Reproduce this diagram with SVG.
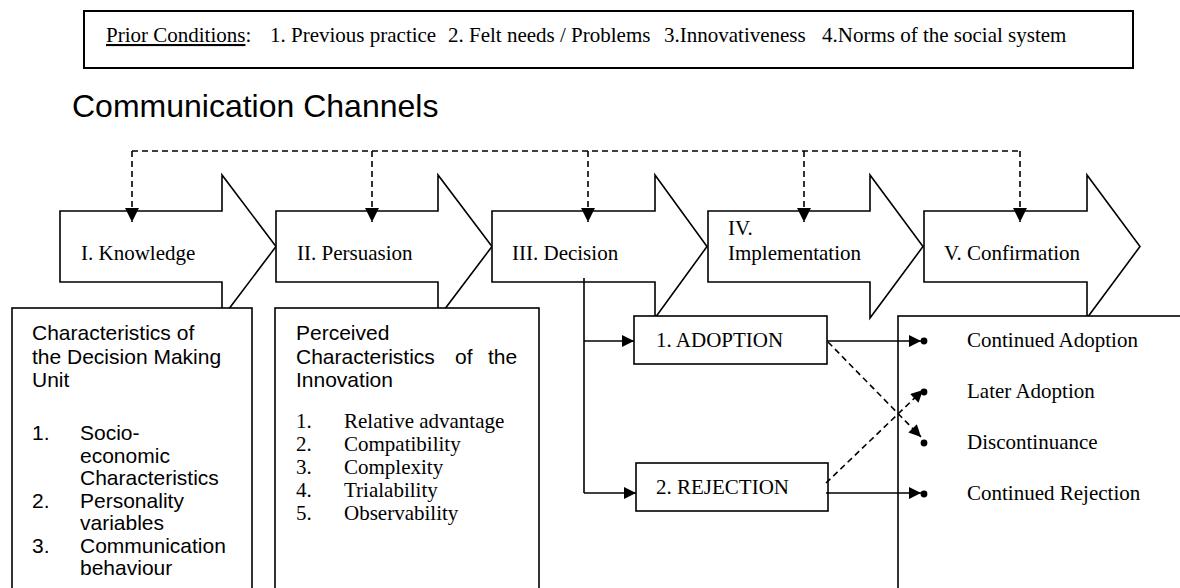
<svg xmlns="http://www.w3.org/2000/svg" width="1180" height="588" viewBox="0 0 1180 588">
<style>
.serif{font-family:"Liberation Serif","Times New Roman",serif;font-size:21px;fill:#000}
.sans{font-family:"Liberation Sans",Arial,sans-serif;font-size:21px;fill:#000}
.stage{fill:#fff;stroke:#000;stroke-width:1.6}
.box{fill:#fff;stroke:#000;stroke-width:1.6}
.ln{fill:none;stroke:#000;stroke-width:1.6}
.dash{fill:none;stroke:#000;stroke-width:1.6;stroke-dasharray:6 4}
</style>
<defs>
<marker id="ah" viewBox="0 0 10 10" refX="10" refY="5" markerWidth="15" markerHeight="12" markerUnits="userSpaceOnUse" orient="auto">
<path d="M0,0 L10,5 L0,10 z" fill="#000"/>
</marker>
<marker id="ahd" viewBox="0 0 10 10" refX="10" refY="5" markerWidth="15" markerHeight="14" markerUnits="userSpaceOnUse" orient="auto">
<path d="M0,0 L10,5 L0,10 z" fill="#000"/>
</marker>
</defs>

<g id="prior-conditions">
<rect x="84" y="11" width="1049" height="57" fill="#fff" stroke="#000" stroke-width="2"/>
<text class="serif" x="106" y="42"><tspan text-decoration="underline">Prior Conditions</tspan>:</text>
<text class="serif" x="270" y="42">1. Previous practice</text>
<text class="serif" x="448" y="42">2. Felt needs / Problems</text>
<text class="serif" x="664" y="42">3.Innovativeness</text>
<text class="serif" x="822" y="42">4.Norms of the social system</text>
</g>

<g id="communication-channels">
<text class="sans" x="72" y="117" style="font-size:32px">Communication Channels</text>
</g>

<g id="stage-knowledge">
<polygon class="stage" points="60,211 222,211 222,175 276,246.5 222,318 222,282 60,282"/>
<text class="serif" x="81" y="260">I. Knowledge</text>
</g>
<g id="stage-persuasion">
<polygon class="stage" points="276,211 438,211 438,175 492,246.5 438,318 438,282 276,282"/>
<text class="serif" x="297" y="260">II. Persuasion</text>
</g>
<g id="stage-decision">
<polygon class="stage" points="492,211 655,211 655,175 707,246.5 655,318 655,282 492,282"/>
<text class="serif" x="512" y="260">III. Decision</text>
</g>
<g id="stage-implementation">
<polygon class="stage" points="708,211 870,211 870,175 923,246.5 870,318 870,282 708,282"/>
<text class="serif" x="728" y="235">IV.</text>
<text class="serif" x="728" y="260">Implementation</text>
</g>
<g id="stage-confirmation">
<polygon class="stage" points="924,211 1087,211 1087,175 1140,246.5 1087,318 1087,282 924,282"/>
<text class="serif" x="944" y="260">V. Confirmation</text>
</g>

<g id="connectors">
<line class="dash" x1="132" y1="151" x2="1020" y2="151"/>
<line class="dash" x1="132" y1="151" x2="132" y2="222" marker-end="url(#ahd)"/>
<line class="dash" x1="372" y1="151" x2="372" y2="222" marker-end="url(#ahd)"/>
<line class="dash" x1="588" y1="151" x2="588" y2="222" marker-end="url(#ahd)"/>
<line class="dash" x1="804" y1="151" x2="804" y2="222" marker-end="url(#ahd)"/>
<line class="dash" x1="1020" y1="151" x2="1020" y2="222" marker-end="url(#ahd)"/>
<line class="ln" x1="584" y1="278" x2="584" y2="493"/>
<line class="ln" x1="584" y1="341" x2="634" y2="341" marker-end="url(#ah)"/>
<line class="ln" x1="584" y1="493" x2="636" y2="493" marker-end="url(#ah)"/>
</g>

<g id="dmu-characteristics">
<rect class="box" x="12" y="308" width="240" height="300"/>
<text class="sans" x="32" y="340">Characteristics of</text>
<text class="sans" x="32" y="363.5">the Decision Making</text>
<text class="sans" x="32" y="387">Unit</text>
<text class="sans" x="32" y="440">1.</text>
<text class="sans" x="80" y="440">Socio-</text>
<text class="sans" x="80" y="462.5">economic</text>
<text class="sans" x="80" y="485">Characteristics</text>
<text class="sans" x="32" y="507.5">2.</text>
<text class="sans" x="80" y="507.5">Personality</text>
<text class="sans" x="80" y="530">variables</text>
<text class="sans" x="32" y="552.5">3.</text>
<text class="sans" x="80" y="552.5">Communication</text>
<text class="sans" x="80" y="575">behaviour</text>
</g>

<g id="innovation-characteristics">
<rect class="box" x="275" y="308" width="264" height="300"/>
<text class="sans" x="296" y="340">Perceived</text>
<text class="sans" x="296" y="363.5">Characteristics</text>
<text class="sans" x="455" y="363.5">of</text>
<text class="sans" x="488" y="363.5">the</text>
<text class="sans" x="296" y="387">Innovation</text>
<text class="serif" x="296" y="428">1.</text><text class="serif" x="344" y="428">Relative advantage</text>
<text class="serif" x="296" y="451">2.</text><text class="serif" x="344" y="451">Compatibility</text>
<text class="serif" x="296" y="474">3.</text><text class="serif" x="344" y="474">Complexity</text>
<text class="serif" x="296" y="497">4.</text><text class="serif" x="344" y="497">Trialability</text>
<text class="serif" x="296" y="520">5.</text><text class="serif" x="344" y="520">Observability</text>
</g>

<g id="adoption">
<rect class="box" x="634" y="316" width="193" height="48"/>
<text class="serif" x="656" y="347">1. ADOPTION</text>
</g>

<g id="rejection">
<rect class="box" x="636" y="463" width="192" height="48"/>
<text class="serif" x="656" y="494">2. REJECTION</text>
</g>

<g id="confirmation-outcomes">
<rect class="box" x="898" y="316" width="300" height="300"/>
<circle cx="924" cy="341" r="3.4"/>
<circle cx="924" cy="392" r="3.4"/>
<circle cx="924" cy="443" r="3.4"/>
<circle cx="924" cy="494" r="3.4"/>
<text class="serif" x="967" y="347">Continued Adoption</text>
<text class="serif" x="967" y="398">Later Adoption</text>
<text class="serif" x="967" y="449">Discontinuance</text>
<text class="serif" x="967" y="500">Continued Rejection</text>
</g>

<g id="outcome-connectors">
<line class="ln" x1="827" y1="341" x2="921" y2="341" marker-end="url(#ah)"/>
<line class="ln" x1="826" y1="493" x2="921" y2="493" marker-end="url(#ah)"/>
<line class="dash" x1="828" y1="342" x2="921" y2="437" marker-end="url(#ah)"/>
<line class="dash" x1="826" y1="483" x2="923" y2="390" marker-end="url(#ah)"/>
</g>
</svg>
